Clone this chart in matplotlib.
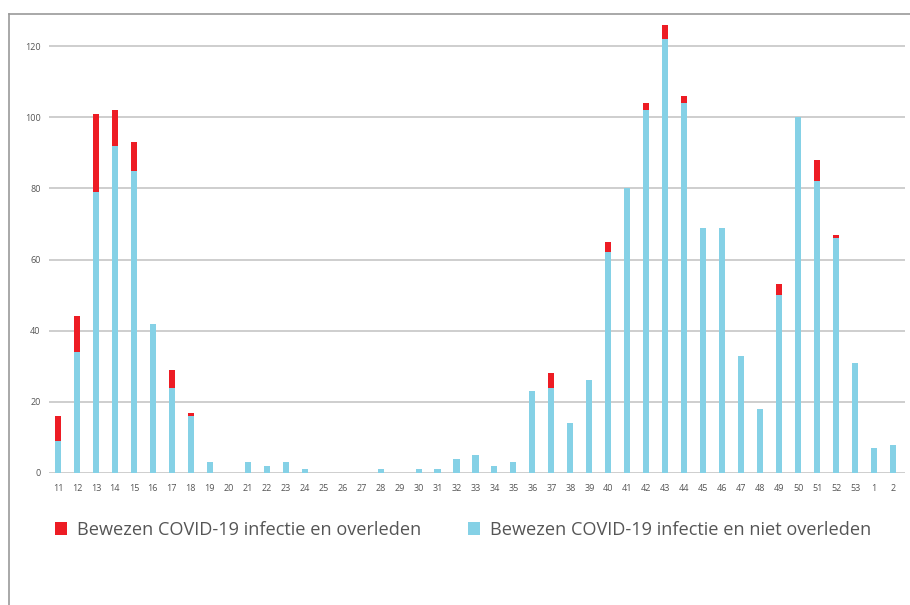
import matplotlib
matplotlib.use("Agg")
import matplotlib.pyplot as plt
from matplotlib.patches import Patch
from matplotlib.lines import Line2D
import numpy as np

weeks = ["11","12","13","14","15","16","17","18","19","20","21","22","23","24","25","26","27","28","29","30",
         "31","32","33","34","35","36","37","38","39","40","41","42","43","44","45","46","47","48","49","50",
         "51","52","53","1","2"]
niet_overleden = [9,34,79,92,85,42,24,16,3,0,3,2,3,1,0,0,0,1,0,1,
                  1,4,5,2,3,23,24,14,26,62,80,102,122,104,69,69,33,18,50,100,
                  82,66,31,7,8]
overleden = [7,10,22,10,8,0,5,1,0,0,0,0,0,0,0,0,0,0,0,0,
             0,0,0,0,0,0,4,0,0,3,0,2,4,2,0,0,0,0,3,0,
             6,1,0,0,0]
label_overleden = "Bewezen COVID-19 infectie en overleden"
label_niet = "Bewezen COVID-19 infectie en niet overleden"
yticks = [0, 20, 40, 60, 80, 100, 120]

RED = "#ED1C24"
BLUE = "#85D1E6"
GRID = "#c6c6c6"
TXT = "#555555"

plt.rcParams['font.family'] = ['Open Sans', 'DejaVu Sans']

fig = plt.figure(figsize=(9.10, 6.05), dpi=100)
W, H = 910, 605
ax = fig.add_axes([49/W, 1-473/H, (905-49)/W, (473-17.6)/H])

x = np.arange(len(weeks))
ax.bar(x, niet_overleden, width=0.32, color=BLUE, edgecolor='none', zorder=3)
ax.bar(x, overleden, width=0.32, bottom=niet_overleden, color=RED, edgecolor='none', zorder=3)

ax.set_xlim(-0.47, len(weeks) - 1 + 0.63)
ax.set_ylim(0, 128)
ax.set_yticks(yticks)
ax.set_xticks(x)
ax.set_xticklabels(weeks)
ax.tick_params(axis='both', length=0, labelsize=6.5, colors=TXT)
ax.tick_params(axis='y', pad=6)
ax.tick_params(axis='x', pad=8)
ax.grid(axis='y', color=GRID, linewidth=1.2, zorder=0)
for s in ax.spines.values():
    s.set_visible(False)

# outer frame (top and left borders)
fig.add_artist(Line2D([9/W, 1], [1-14/H, 1-14/H], transform=fig.transFigure, color="#9a9a9a", linewidth=1.2))
fig.add_artist(Line2D([9/W, 9/W], [0, 1-14/H], transform=fig.transFigure, color="#9a9a9a", linewidth=1.2))

handles = [Patch(facecolor=RED, edgecolor='none'), Patch(facecolor=BLUE, edgecolor='none')]
fig.legend(handles, [label_overleden, label_niet], loc='center left',
           bbox_to_anchor=(55/W, 1-530/H), ncol=2, frameon=False,
           fontsize=13.1, labelcolor=TXT, handlelength=0.66, handleheight=0.66,
           handletextpad=0.55, columnspacing=2.55, borderaxespad=0, borderpad=0)

fig.savefig("out.png", dpi=100, facecolor='white')
